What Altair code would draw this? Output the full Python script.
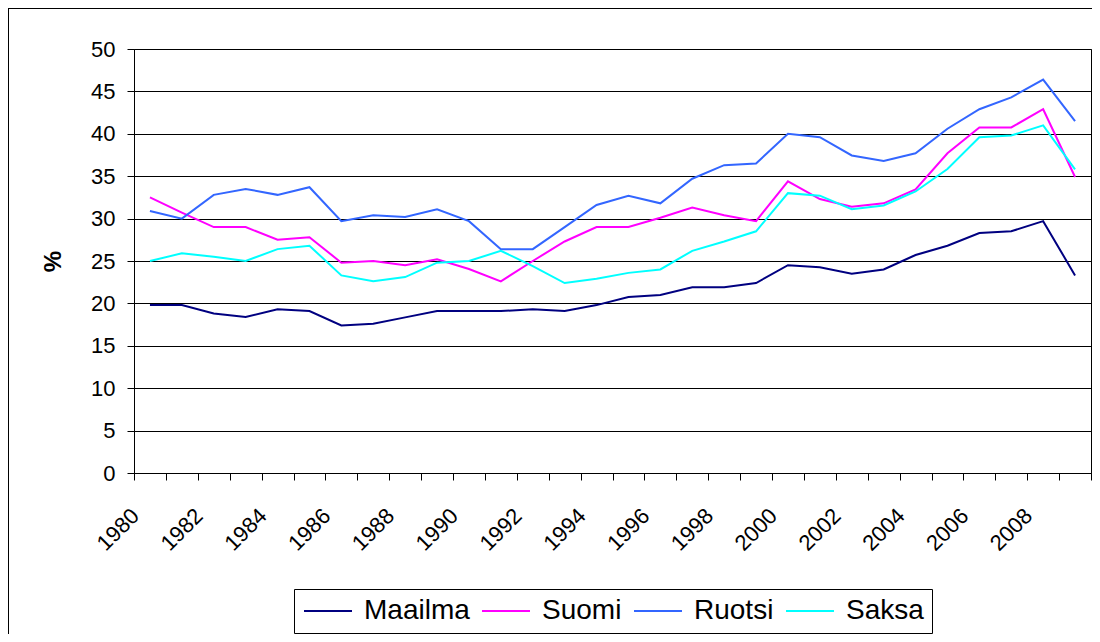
import altair as alt
import pandas as pd

years = list(range(1980, 2010))
series_names = ["Maailma", "Suomi", "Ruotsi", "Saksa"]
series_colors = ["#000080", "#FF00FF", "#3366FF", "#00FFFF"]

maailma = [19.8, 19.8, 18.8, 18.4, 19.3, 19.1, 17.4, 17.6, 18.35, 19.1,
           19.1, 19.1, 19.3, 19.1, 19.8, 20.75, 21.0, 21.9, 21.9, 22.4,
           24.5, 24.25, 23.5, 24.0, 25.7, 26.8, 28.3, 28.5, 29.7, 23.3]
suomi = [32.5, 30.7, 29.0, 29.0, 27.5, 27.8, 24.8, 25.0, 24.5, 25.2,
         24.05, 22.6, 25.0, 27.3, 29.0, 29.0, 30.1, 31.3, 30.4, 29.7,
         34.4, 32.3, 31.4, 31.8, 33.45, 37.7, 40.75, 40.75, 42.9, 34.9]
ruotsi = [30.9, 30.0, 32.8, 33.5, 32.8, 33.7, 29.7, 30.4, 30.2, 31.1,
          29.7, 26.4, 26.4, 29.0, 31.6, 32.7, 31.8, 34.7, 36.3, 36.5,
          40.0, 39.6, 37.45, 36.8, 37.7, 40.6, 42.9, 44.3, 46.4, 41.5]
saksa = [25.0, 25.9, 25.5, 25.0, 26.4, 26.8, 23.3, 22.6, 23.1, 24.8,
         25.0, 26.2, 24.4, 22.4, 22.9, 23.6, 24.0, 26.2, 27.3, 28.5,
         33.0, 32.7, 31.1, 31.55, 33.2, 35.85, 39.6, 39.8, 41.0, 35.8]

y_ticks = list(range(0, 51, 5))
x_tick_bounds = [y - 0.5 for y in range(1980, 2011)]

rows = []
for name, vals in zip(series_names, [maailma, suomi, ruotsi, saksa]):
    for yr, v in zip(years, vals):
        rows.append({"Vuosi": yr, "Arvo": v, "Sarja": name})
df = pd.DataFrame(rows)

FONT = "Liberation Sans"

lines = alt.Chart(df).mark_line(strokeWidth=2).encode(
    x=alt.X("Vuosi:Q",
            scale=alt.Scale(domain=[1979.5, 2009.5], nice=False, zero=False),
            axis=alt.Axis(values=x_tick_bounds, title=None, grid=False,
                          labelExpr="((datum.value + 0.5) % 2 == 0 && datum.value < 2009) ? format(datum.value + 0.5, 'd') : ''",
                          labelAngle=-45, labelAlign="right", labelBaseline="middle",
                          labelPadding=32, labelOffset=1, tickSize=7,
                          labelOverlap=False, labelFlush=False, labelBound=False)),
    y=alt.Y("Arvo:Q",
            scale=alt.Scale(domain=[0, 50], nice=False),
            axis=alt.Axis(values=y_ticks, title="%", grid=True, tickSize=7,
                          labelPadding=12, labelFlush=False,
                          titleFontWeight="bold", titleFontSize=24,
                          titleX=-81, titleY=212, titleAngle=-90,
                          titleAlign="center", titleBaseline="middle")),
    color=alt.Color("Sarja:N",
                    scale=alt.Scale(domain=series_names, range=series_colors),
                    sort=series_names,
                    legend=alt.Legend(title=None, orient="none", legendX=160, legendY=540,
                                      direction="horizontal", columns=4,
                                      symbolType="M-2,0L2,0", symbolSize=576,
                                      symbolOffset=12, symbolStrokeWidth=2,
                                      labelOffset=22, columnPadding=8, padding=8,
                                      strokeColor="black", labelFontSize=28,
                                      labelFont=FONT, labelColor="black")),
    detail="Sarja:N",
)

frame_data = alt.Data(values=[{"a": 1}])
frame_left = alt.Chart(frame_data).mark_rule(color="black", strokeWidth=1).encode(
    x=alt.value(-125.5), y=alt.value(-41), y2=alt.value(700)
)
frame_top = alt.Chart(frame_data).mark_rule(color="black", strokeWidth=1).encode(
    x=alt.value(-126), x2=alt.value(958), y=alt.value(-40.5)
)

chart = alt.layer(frame_left, frame_top, lines).properties(
    width=957, height=424,
    autosize=alt.AutoSizeParams(type="none"),
    padding={"left": 126, "top": 41, "right": 1, "bottom": 161},
    background="white",
).configure_view(
    stroke="black", strokeWidth=1
).configure_axis(
    labelFont=FONT, titleFont=FONT, labelFontSize=22,
    labelColor="black", titleColor="black",
    domainColor="black", tickColor="black", gridColor="black",
    gridOpacity=1, domainWidth=1, tickWidth=1, gridWidth=1,
)

chart.save("out.html", embed_options={"renderer": "svg", "actions": False})
